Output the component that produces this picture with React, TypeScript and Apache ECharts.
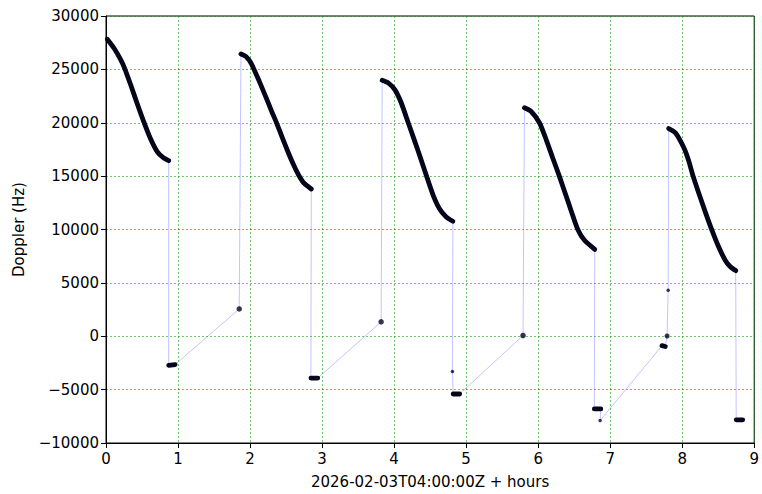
import React, { useEffect, useRef } from "react";
import * as echarts from "echarts";

// Pass curves (hours since 2026-02-03T04:00:00Z, Doppler Hz)
const pass1Hours = [0.018, 0.11, 0.2, 0.26, 0.34, 0.43, 0.525, 0.62, 0.71, 0.8, 0.87];
const pass1Doppler = [27830, 27000, 25950, 25080, 23600, 21850, 20080, 18470, 17300, 16700, 16450];

const pass2Hours = [1.874, 1.943, 2.012, 2.127, 2.22, 2.297, 2.366, 2.449, 2.54, 2.62, 2.68, 2.749, 2.85];
const pass2Doppler = [26440, 26200, 25600, 23900, 22400, 21120, 20020, 18580, 17050, 15830, 15040, 14340, 13790];

const pass3Hours = [3.835, 3.918, 4.01, 4.1, 4.195, 4.286, 4.355, 4.448, 4.54, 4.63, 4.724, 4.816];
const pass3Doppler = [23980, 23740, 23100, 21850, 20020, 18280, 16930, 15050, 13250, 11950, 11180, 10770];

const pass4Hours = [5.81, 5.9, 6.018, 6.11, 6.2, 6.294, 6.385, 6.468, 6.547, 6.64, 6.786];
const pass4Doppler = [21410, 21080, 20000, 18450, 16750, 15000, 13210, 11550, 10050, 9010, 8140];

const pass5Hours = [7.813, 7.905, 8.02, 8.09, 8.149, 8.228, 8.32, 8.41, 8.504, 8.595, 8.665, 8.743];
const pass5Doppler = [19460, 19060, 17700, 16450, 15050, 13450, 11650, 9980, 8400, 7150, 6530, 6150];

// Low-value clusters and isolated points between passes
const gap1Hours = [0.87, 0.96];
const gap1Doppler = [-2720, -2650];
const gapAHours = [1.85];
const gapADoppler = [2560];
const gap2Hours = [2.845, 2.94];
const gap2Doppler = [-3920, -3920];
const gapBHours = [3.82];
const gapBDoppler = [1350];
const dot1Hours = [4.81];
const dot1Doppler = [-3300];
const gap3Hours = [4.82, 4.91];
const gap3Doppler = [-5410, -5410];
const gapCHours = [5.79];
const gapCDoppler = [70];
const gap4Hours = [6.78, 6.87];
const gap4Doppler = [-6810, -6810];
const dot2Hours = [6.86];
const dot2Doppler = [-7890];
const gap5Hours = [7.72, 7.765];
const gap5Doppler = [-880, -960];
const dot3Hours = [7.79];
const dot3Doppler = [20];
const dot4Hours = [7.805];
const dot4Doppler = [4300];
const gap6Hours = [8.75, 8.84];
const gap6Doppler = [-7830, -7830];

const xTicks = [0, 1, 2, 3, 4, 5, 6, 7, 8, 9];
const yTicks = [-10000, -5000, 0, 5000, 10000, 15000, 20000, 25000, 30000];

// segments in time order: [hours, doppler, markerSize (0 = thick line)]
const segments: [number[], number[], number][] = [
  [pass1Hours, pass1Doppler, 0],
  [gap1Hours, gap1Doppler, 0],
  [gapAHours, gapADoppler, 5.5],
  [pass2Hours, pass2Doppler, 0],
  [gap2Hours, gap2Doppler, 0],
  [gapBHours, gapBDoppler, 5.5],
  [pass3Hours, pass3Doppler, 0],
  [dot1Hours, dot1Doppler, 3.5],
  [gap3Hours, gap3Doppler, 0],
  [gapCHours, gapCDoppler, 5.5],
  [pass4Hours, pass4Doppler, 0],
  [gap4Hours, gap4Doppler, 0],
  [dot2Hours, dot2Doppler, 3.5],
  [gap5Hours, gap5Doppler, 0],
  [dot3Hours, dot3Doppler, 5],
  [dot4Hours, dot4Doppler, 3.5],
  [pass5Hours, pass5Doppler, 0],
  [gap6Hours, gap6Doppler, 0],
];

const FONT = "DejaVu Sans";
const INK = "#05051c";

export default function App() {
  const ref = useRef<HTMLDivElement>(null);
  useEffect(() => {
    if (!ref.current) return;
    const chart = echarts.init(ref.current, null, { renderer: "svg" });

    const track: number[][] = [];
    segments.forEach(([h, d]) => h.forEach((x, i) => track.push([x, d[i]])));

    const series: any[] = [
      {
        type: "line",
        data: track,
        showSymbol: false,
        symbol: "none",
        lineStyle: { color: "rgba(80,80,255,0.38)", width: 0.9 },
        z: 2,
      },
    ];
    segments.forEach(([h, d, size]) => {
      const pts = h.map((x, i) => [x, d[i]]);
      if (size > 0) {
        series.push({
          type: "scatter",
          data: pts,
          symbol: "circle",
          symbolSize: size,
          itemStyle: { color: INK },
          z: 4,
        });
      } else {
        series.push({
          type: "line",
          data: pts,
          symbol: "none",
          smooth: 0.2,
          lineStyle: { color: INK, width: 4.8, cap: "round", join: "round" },
          z: 3,
        });
      }
    });

    const grid = { show: true, lineStyle: { color: "rgba(0,150,0,0.7)", type: [2, 2], width: 0.8 } };

    chart.setOption({
      animation: false,
      backgroundColor: "#ffffff",
      grid: {
        left: 106,
        right: 4,
        top: 16,
        bottom: 48,
        show: true,
        borderColor: "#000",
        borderWidth: 1,
        backgroundColor: "transparent",
      },
      xAxis: {
        type: "value",
        min: xTicks[0],
        max: xTicks[xTicks.length - 1],
        interval: 1,
        name: "2026-02-03T04:00:00Z + hours",
        nameLocation: "middle",
        nameGap: 31,
        nameTextStyle: { fontFamily: FONT, fontSize: 15, color: "#000" },
        axisLine: { show: true, onZero: false, lineStyle: { color: "#000", width: 1 } },
        axisTick: { show: true, inside: false, length: 5, lineStyle: { color: "#000" } },
        axisLabel: { fontFamily: FONT, fontSize: 15, color: "#000", margin: 8 },
        splitLine: grid,
      },
      yAxis: {
        type: "value",
        min: yTicks[0],
        max: yTicks[yTicks.length - 1],
        interval: 5000,
        name: "Doppler (Hz)",
        nameLocation: "middle",
        nameGap: 80,
        nameTextStyle: { fontFamily: FONT, fontSize: 15, color: "#000" },
        axisLine: { show: true, onZero: false, lineStyle: { color: "#000", width: 1 } },
        axisTick: { show: true, inside: false, length: 5, lineStyle: { color: "#000" } },
        axisLabel: {
          fontFamily: FONT,
          fontSize: 15,
          color: "#000",
          margin: 7,
          formatter: (v: number) => String(v).replace("-", "\u2212"),
        },
        splitLine: grid,
      },
      series,
    });
    return () => chart.dispose();
  }, []);
  return (
    <div
      ref={ref}
      style={{ position: "fixed", left: 0, top: 0, width: 762, height: 494, background: "#fff" }}
    />
  );
}
